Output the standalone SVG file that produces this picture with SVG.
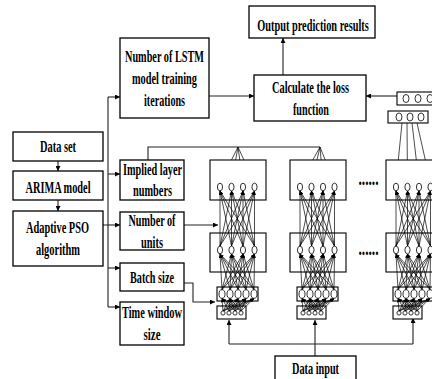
<svg xmlns="http://www.w3.org/2000/svg" xmlns:xlink="http://www.w3.org/1999/xlink" width="432" height="379" viewBox="0 0 432 379">
<style>
.box{fill:#fff;stroke:#000;stroke-width:1.3}
.nb{fill:#fff;stroke:#000;stroke-width:1.1}
.nd{fill:#fff;stroke:#000;stroke-width:0.8}
.t{font-family:"Liberation Serif","Times New Roman",serif;font-weight:bold;font-size:16.5px;fill:#000;text-anchor:middle}
.c{fill:none;stroke:#222;stroke-width:1.1;marker-end:url(#am)}
.p{fill:none;stroke:#222;stroke-width:1.1}
.e{stroke:#000;stroke-width:0.7;marker-end:url(#ah)}
.f{stroke:#000;stroke-width:0.7;marker-end:url(#ah)}
.o{stroke:#000;stroke-width:0.7}
</style>
<defs>
<marker id="am" markerUnits="userSpaceOnUse" markerWidth="6" markerHeight="5" refX="5" refY="2.5" orient="auto"><path d="M0,0 L5,2.5 L0,5 z" fill="#000"/></marker>
<marker id="ah" markerUnits="userSpaceOnUse" markerWidth="4" markerHeight="3" refX="4" refY="1.5" orient="auto"><path d="M0,0 L4,1.5 L0,3 z" fill="#000"/></marker>
<g id="col">
<rect class="nb" x="210" y="160" width="56" height="40"/>
<rect class="nb" x="210" y="233" width="56" height="39"/>
<rect class="nb" x="217" y="287" width="41" height="14"/>
<rect class="nb" x="217" y="306" width="29" height="13"/>
<line class="e" x1="220" y1="246" x2="220" y2="191"/>
<line class="e" x1="220" y1="246" x2="231.5" y2="191"/>
<line class="e" x1="220" y1="246" x2="243" y2="191"/>
<line class="e" x1="220" y1="246" x2="254.5" y2="191"/>
<line class="e" x1="231.5" y1="246" x2="220" y2="191"/>
<line class="e" x1="231.5" y1="246" x2="231.5" y2="191"/>
<line class="e" x1="231.5" y1="246" x2="243" y2="191"/>
<line class="e" x1="231.5" y1="246" x2="254.5" y2="191"/>
<line class="e" x1="243" y1="246" x2="220" y2="191"/>
<line class="e" x1="243" y1="246" x2="231.5" y2="191"/>
<line class="e" x1="243" y1="246" x2="243" y2="191"/>
<line class="e" x1="243" y1="246" x2="254.5" y2="191"/>
<line class="e" x1="254.5" y1="246" x2="220" y2="191"/>
<line class="e" x1="254.5" y1="246" x2="231.5" y2="191"/>
<line class="e" x1="254.5" y1="246" x2="243" y2="191"/>
<line class="e" x1="254.5" y1="246" x2="254.5" y2="191"/>
<line class="e" x1="222" y1="289.5" x2="220" y2="254"/>
<line class="e" x1="222" y1="289.5" x2="231.5" y2="254"/>
<line class="e" x1="222" y1="289.5" x2="243" y2="254"/>
<line class="e" x1="222" y1="289.5" x2="254.5" y2="254"/>
<line class="e" x1="230" y1="289.5" x2="220" y2="254"/>
<line class="e" x1="230" y1="289.5" x2="231.5" y2="254"/>
<line class="e" x1="230" y1="289.5" x2="243" y2="254"/>
<line class="e" x1="230" y1="289.5" x2="254.5" y2="254"/>
<line class="e" x1="238" y1="289.5" x2="220" y2="254"/>
<line class="e" x1="238" y1="289.5" x2="231.5" y2="254"/>
<line class="e" x1="238" y1="289.5" x2="243" y2="254"/>
<line class="e" x1="238" y1="289.5" x2="254.5" y2="254"/>
<line class="e" x1="246" y1="289.5" x2="220" y2="254"/>
<line class="e" x1="246" y1="289.5" x2="231.5" y2="254"/>
<line class="e" x1="246" y1="289.5" x2="243" y2="254"/>
<line class="e" x1="246" y1="289.5" x2="254.5" y2="254"/>
<line class="e" x1="254" y1="289.5" x2="220" y2="254"/>
<line class="e" x1="254" y1="289.5" x2="231.5" y2="254"/>
<line class="e" x1="254" y1="289.5" x2="243" y2="254"/>
<line class="e" x1="254" y1="289.5" x2="254.5" y2="254"/>
<line class="e" x1="223" y1="311" x2="222" y2="298.5"/>
<line class="e" x1="223" y1="311" x2="230" y2="298.5"/>
<line class="e" x1="223" y1="311" x2="238" y2="298.5"/>
<line class="e" x1="223" y1="311" x2="246" y2="298.5"/>
<line class="e" x1="223" y1="311" x2="254" y2="298.5"/>
<line class="e" x1="229" y1="311" x2="222" y2="298.5"/>
<line class="e" x1="229" y1="311" x2="230" y2="298.5"/>
<line class="e" x1="229" y1="311" x2="238" y2="298.5"/>
<line class="e" x1="229" y1="311" x2="246" y2="298.5"/>
<line class="e" x1="229" y1="311" x2="254" y2="298.5"/>
<line class="e" x1="235" y1="311" x2="222" y2="298.5"/>
<line class="e" x1="235" y1="311" x2="230" y2="298.5"/>
<line class="e" x1="235" y1="311" x2="238" y2="298.5"/>
<line class="e" x1="235" y1="311" x2="246" y2="298.5"/>
<line class="e" x1="235" y1="311" x2="254" y2="298.5"/>
<line class="e" x1="241" y1="311" x2="222" y2="298.5"/>
<line class="e" x1="241" y1="311" x2="230" y2="298.5"/>
<line class="e" x1="241" y1="311" x2="238" y2="298.5"/>
<line class="e" x1="241" y1="311" x2="246" y2="298.5"/>
<line class="e" x1="241" y1="311" x2="254" y2="298.5"/>
<ellipse class="nd" cx="220" cy="187" rx="2.6" ry="3.8"/>
<ellipse class="nd" cx="231.5" cy="187" rx="2.6" ry="3.8"/>
<ellipse class="nd" cx="243" cy="187" rx="2.6" ry="3.8"/>
<ellipse class="nd" cx="254.5" cy="187" rx="2.6" ry="3.8"/>
<ellipse class="nd" cx="220" cy="250" rx="2.6" ry="3.8"/>
<ellipse class="nd" cx="231.5" cy="250" rx="2.6" ry="3.8"/>
<ellipse class="nd" cx="243" cy="250" rx="2.6" ry="3.8"/>
<ellipse class="nd" cx="254.5" cy="250" rx="2.6" ry="3.8"/>
<ellipse class="nd" cx="222" cy="294" rx="3" ry="4.3"/>
<ellipse class="nd" cx="230" cy="294" rx="3" ry="4.3"/>
<ellipse class="nd" cx="238" cy="294" rx="3" ry="4.3"/>
<ellipse class="nd" cx="246" cy="294" rx="3" ry="4.3"/>
<ellipse class="nd" cx="254" cy="294" rx="3" ry="4.3"/>
<circle class="nd" cx="223" cy="313" r="2.1"/>
<circle class="nd" cx="229" cy="313" r="2.1"/>
<circle class="nd" cx="235" cy="313" r="2.1"/>
<circle class="nd" cx="241" cy="313" r="2.1"/>
</g>
</defs>
<rect width="432" height="379" fill="#fff"/>

<g id="connectors">
<path class="c" d="M58,161 V171"/>
<path class="c" d="M58,200 V211"/>
<path class="p" d="M103,225 H108 M108,97 V307"/>
<path class="c" d="M108,97 H120"/>
<path class="c" d="M108,174 H120"/>
<path class="c" d="M108,225 H120"/>
<path class="c" d="M108,268 H120"/>
<path class="c" d="M108,307 H120"/>
<path class="c" d="M209,96 H254"/>
<path class="c" d="M283,75 V38"/>
<path class="c" d="M397,96 H366"/>
<path class="p" d="M148,160 V147 H320"/>
<path class="c" d="M184,225 H218"/>
<path class="c" d="M184,283 H193 V302 H215"/>
<path class="p" d="M229,344 H413"/>
<path class="c" d="M229,344 V320"/>
<path class="c" d="M315,356 V320"/>
<path class="c" d="M413,344 V318"/>
<line class="f" x1="238" y1="147" x2="220" y2="183"/>
<line class="f" x1="238" y1="147" x2="231.5" y2="183"/>
<line class="f" x1="238" y1="147" x2="243" y2="183"/>
<line class="f" x1="238" y1="147" x2="254.5" y2="183"/>
<line class="f" x1="320" y1="147" x2="300" y2="183"/>
<line class="f" x1="320" y1="147" x2="311.5" y2="183"/>
<line class="f" x1="320" y1="147" x2="323" y2="183"/>
<line class="f" x1="320" y1="147" x2="334.5" y2="183"/>
<line class="o" x1="396" y1="183" x2="402" y2="123"/>
<line class="o" x1="407.5" y1="183" x2="407" y2="123"/>
<line class="o" x1="419" y1="183" x2="412" y2="123"/>
<line class="o" x1="430.5" y1="183" x2="417" y2="123"/>
</g>

<g id="lstm-col-1"><use xlink:href="#col"/></g>
<g id="lstm-col-2"><use xlink:href="#col" x="80"/></g>
<g id="lstm-col-3"><use xlink:href="#col" x="176"/></g>

<g id="out-1">
<rect class="nb" x="397" y="92" width="45" height="13"/>
<ellipse class="nd" cx="406" cy="98.5" rx="3" ry="4"/>
<ellipse class="nd" cx="418" cy="98.5" rx="3" ry="4"/>
<ellipse class="nd" cx="430" cy="98.5" rx="3" ry="4"/>
</g>
<g id="out-2">
<rect class="nb" x="388" y="111" width="40" height="12"/>
<ellipse class="nd" cx="399" cy="117" rx="3" ry="4"/>
<ellipse class="nd" cx="410" cy="117" rx="3" ry="4"/>
<ellipse class="nd" cx="421" cy="117" rx="3" ry="4"/>
</g>

<g id="dots">
<text class="t" x="368.5" y="185" style="font-size:20px" textLength="20" lengthAdjust="spacingAndGlyphs">......</text>
<text class="t" x="368.5" y="255" style="font-size:20px" textLength="20" lengthAdjust="spacingAndGlyphs">......</text>
</g>

<g id="dataset">
<rect class="box" x="13" y="132" width="90" height="29"/>
<text class="t" x="58" y="152" textLength="36" lengthAdjust="spacingAndGlyphs">Data set</text>
</g>
<g id="arima">
<rect class="box" x="13" y="171" width="90" height="29"/>
<text class="t" x="58" y="193" textLength="65" lengthAdjust="spacingAndGlyphs">ARIMA model</text>
</g>
<g id="pso">
<rect class="box" x="13" y="211" width="90" height="55"/>
<text class="t" x="57.5" y="233" textLength="63" lengthAdjust="spacingAndGlyphs">Adaptive PSO</text>
<text class="t" x="58" y="255" textLength="44" lengthAdjust="spacingAndGlyphs">algorithm</text>
</g>
<g id="iterations">
<rect class="box" x="120" y="38" width="89" height="80"/>
<text class="t" x="164.5" y="62" textLength="79" lengthAdjust="spacingAndGlyphs">Number of LSTM</text>
<text class="t" x="164.5" y="84" textLength="65" lengthAdjust="spacingAndGlyphs">model training</text>
<text class="t" x="164.5" y="106" textLength="41" lengthAdjust="spacingAndGlyphs">iterations</text>
</g>
<g id="layers">
<rect class="box" x="120" y="160" width="64" height="40"/>
<text class="t" x="152.5" y="175" textLength="59" lengthAdjust="spacingAndGlyphs">Implied layer</text>
<text class="t" x="152.5" y="196" textLength="39" lengthAdjust="spacingAndGlyphs">numbers</text>
</g>
<g id="units">
<rect class="box" x="120" y="212" width="64" height="38"/>
<text class="t" x="152" y="226" textLength="47" lengthAdjust="spacingAndGlyphs">Number of</text>
<text class="t" x="152" y="248" textLength="22" lengthAdjust="spacingAndGlyphs">units</text>
</g>
<g id="batch">
<rect class="box" x="120" y="263" width="64" height="28"/>
<text class="t" x="152" y="283" textLength="44" lengthAdjust="spacingAndGlyphs">Batch size</text>
</g>
<g id="window">
<rect class="box" x="120" y="302" width="64" height="43"/>
<text class="t" x="152" y="318" textLength="60" lengthAdjust="spacingAndGlyphs">Time window</text>
<text class="t" x="152" y="340" textLength="17" lengthAdjust="spacingAndGlyphs">size</text>
</g>
<g id="output">
<rect class="box" x="249" y="6" width="126" height="32"/>
<text class="t" transform="translate(313,31) scale(0.626,1)" x="0" y="0">Output prediction results</text>
</g>
<g id="loss">
<rect class="box" x="254" y="75" width="112" height="46"/>
<text class="t" x="310.5" y="93" textLength="77" lengthAdjust="spacingAndGlyphs">Calculate the loss</text>
<text class="t" x="311" y="115" textLength="36" lengthAdjust="spacingAndGlyphs">function</text>
</g>
<g id="datainput">
<rect class="box" x="275" y="356" width="81" height="30"/>
<text class="t" x="315.5" y="374" textLength="47" lengthAdjust="spacingAndGlyphs">Data input</text>
</g>
</svg>
